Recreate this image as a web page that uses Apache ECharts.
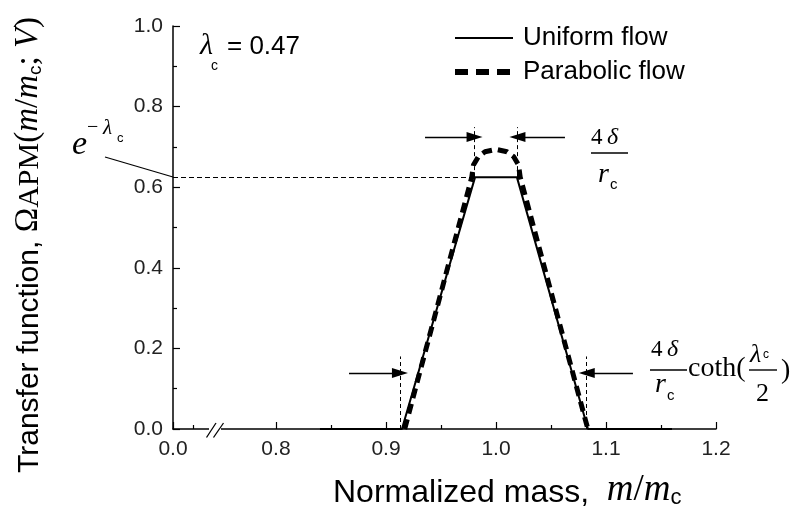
<!DOCTYPE html>
<html><head><meta charset="utf-8">
<script src="https://cdn.jsdelivr.net/npm/echarts@6/dist/echarts.min.js"></script>
<style>html,body{margin:0;padding:0;background:#fff}#c{width:799px;height:516px}</style>
</head><body><div id="c"></div>
<script>
// ---- data ----
const xAxisOrigin = 0.7064;            // broken-axis origin, labelled "0.0"
const xAxisMax = 1.2;
const xTickValues = [0.7064, 0.8, 0.9, 1.0, 1.1, 1.2];
const xTickLabels = ['0.0', '0.8', '0.9', '1.0', '1.1', '1.2'];
const xMinorTickValues = [0.7246, 0.85, 0.95, 1.05, 1.15];
const yMin = 0, yMax = 1, yInterval = 0.2;

const uniformX = [0.84, 0.9145, 0.981, 1.019, 1.0836, 1.16];
const uniformY = [0, 0, 0.625, 0.625, 0, 0];
const parabolicX = [0.917, 0.978, 0.9795, 0.984, 0.990, 1.000, 1.010, 1.016, 1.0205, 1.022, 1.0835];
const parabolicY = [0, 0.625, 0.655, 0.676, 0.688, 0.694, 0.688, 0.676, 0.655, 0.625, 0];

const expLevel = 0.625;                 // e^{-λc}
const peakGuideX = [0.9805, 1.0195];
const peakGuideY = [0.625, 0.749];
const baseGuideX = [0.9127, 1.0825];
const baseGuideY = [0, 0.18];
const peakArrowY = 0.7246;
const peakArrowFrom = [0.9355, 1.0627];
const baseArrowY = 0.139;
const baseArrowFrom = [0.8664, 1.1245];

// ---- helpers ----
const SANS = '"Liberation Sans", Arial, sans-serif';
const SERIF = '"Liberation Serif", "Times New Roman", serif';
function txt(str, x, baseline, size, family, italic, extra) {
  return Object.assign({
    type: 'text', x: x, y: baseline - 0.3 * size, z: 50,
    style: { text: str, font: (italic ? 'italic ' : '') + size + 'px ' + family,
             fill: '#000', align: 'left', verticalAlign: 'middle' }
  }, extra || {});
}
function hline(x1, x2, y, w) {
  return { type: 'line', z: 50, shape: { x1: x1, y1: y, x2: x2, y2: y }, style: { stroke: '#000', lineWidth: w || 1.4 } };
}
function pair(a, b, opts) {
  return [Object.assign({ coord: a }, opts && opts.s || {}), Object.assign({ coord: b }, opts && opts.e || {})];
}
const arrowEnd = { s: { symbol: 'none' }, e: { symbol: 'triangle', symbolSize: [10, 16] } };
const dashedGuide = { lineStyle: { type: [4, 3], width: 1, color: '#000' } };

const mlData = [
  pair([xAxisOrigin, expLevel], [peakGuideX[0], expLevel], { s: { symbol: 'none' }, e: { symbol: 'none' } }),
  pair([peakGuideX[0], peakGuideY[0]], [peakGuideX[0], peakGuideY[1]]),
  pair([peakGuideX[1], peakGuideY[0]], [peakGuideX[1], peakGuideY[1]]),
  pair([baseGuideX[0], baseGuideY[0]], [baseGuideX[0], baseGuideY[1]]),
  pair([baseGuideX[1], baseGuideY[0]], [baseGuideX[1], baseGuideY[1]]),
].map(d => { d[0].lineStyle = dashedGuide.lineStyle; return d; });
mlData[0][0].lineStyle = { type: [5, 3], width: 1, color: '#000' };

const arrowData = [
  pair([peakArrowFrom[0], peakArrowY], [peakGuideX[0], peakArrowY], arrowEnd),
  pair([peakArrowFrom[1], peakArrowY], [peakGuideX[1], peakArrowY], arrowEnd),
  pair([baseArrowFrom[0], baseArrowY], [baseGuideX[0], baseArrowY], arrowEnd),
  pair([baseArrowFrom[1], baseArrowY], [baseGuideX[1], baseArrowY], arrowEnd),
];

const chart = echarts.init(document.getElementById('c'));
const option = {
  animation: false,
  backgroundColor: '#fff',
  grid: { left: 173, right: 83, top: 26, bottom: 87, containLabel: false },
  legend: {
    orient: 'vertical', left: 447, top: 20, itemWidth: 58, itemHeight: 14, itemGap: 8,
    data: [
      { name: 'Uniform flow', lineStyle: { width: 2 } },
      { name: 'Parabolic flow', lineStyle: { width: 6, type: [13, 8] } }
    ],
    itemStyle: { opacity: 0 },
    textStyle: { fontFamily: SANS, fontSize: 26, color: '#000', padding: [0, 0, 0, 5] },
    selectedMode: false
  },
  xAxis: [{
    type: 'value', min: xAxisOrigin, max: xAxisMax,
    axisLine: { lineStyle: { color: '#000', width: 1.5 } },
    axisTick: { inside: true, length: 7, customValues: xTickValues, lineStyle: { color: '#000', width: 1.2 } },
    axisLabel: { customValues: xTickValues, margin: 10, fontFamily: SANS, fontSize: 21, color: '#222',
      formatter: v => { let bi = 0; xTickValues.forEach((t, i) => { if (Math.abs(t - v) < Math.abs(xTickValues[bi] - v)) bi = i; }); return xTickLabels[bi]; } },
    splitLine: { show: false }
  }, {
    type: 'value', min: xAxisOrigin, max: xAxisMax, position: 'bottom',
    axisLine: { show: false },
    axisTick: { inside: true, length: 4, customValues: xMinorTickValues, lineStyle: { color: '#000', width: 1.2 } },
    axisLabel: { show: false },
    splitLine: { show: false }
  }],
  yAxis: {
    type: 'value', min: yMin, max: yMax, interval: yInterval,
    axisLine: { show: true, lineStyle: { color: '#000', width: 1.5 } },
    axisTick: { show: true, inside: true, length: 7, lineStyle: { color: '#000', width: 1.2 } },
    minorTick: { show: true, splitNumber: 2, length: 4, lineStyle: { color: '#000', width: 1.2 } },
    axisLabel: { margin: 10, fontFamily: SANS, fontSize: 21, color: '#222', formatter: v => v.toFixed(1) },
    splitLine: { show: false }
  },
  series: [{
    name: 'Uniform flow', type: 'line', symbol: 'none', z: 5,
    data: uniformX.map((x, i) => [x, uniformY[i]]),
    lineStyle: { color: '#000', width: 2 }, itemStyle: { color: '#000' }
  }, {
    name: 'Parabolic flow', type: 'line', symbol: 'none', z: 6,
    data: parabolicX.map((x, i) => [x, parabolicY[i]]),
    lineStyle: { color: '#000', width: 5, type: [10, 6] }, itemStyle: { color: '#000' }
  }, {
    name: 'guides', type: 'line', data: [], symbol: 'none',
    markLine: { silent: true, symbol: 'none', label: { show: false }, animation: false, data: mlData }
  }, {
    name: 'arrows', type: 'line', data: [], symbol: 'none',
    markLine: { silent: true, label: { show: false }, animation: false,
      lineStyle: { type: 'solid', width: 1.3, color: '#000' }, itemStyle: { color: '#000' }, data: arrowData }
  }],
  graphic: { elements: [
    // axis break
    { type: 'rect', z: 60, shape: { x: 209, y: 426, width: 12, height: 6 }, style: { fill: '#fff' } },
    { type: 'line', z: 61, shape: { x1: 206.5, y1: 437.5, x2: 216, y2: 423 }, style: { stroke: '#000', lineWidth: 1.3 } },
    { type: 'line', z: 61, shape: { x1: 213.5, y1: 437.5, x2: 223.5, y2: 423 }, style: { stroke: '#000', lineWidth: 1.3 } },
    // axis titles
    { type: 'text', z: 50, x: 333, y: 469,
      style: { text: '{a|Normalized mass,  }{i|m}{p|/}{i|m}{sc|c}', align: 'left', verticalAlign: 'top', fill: '#000',
        rich: {
          a: { fontFamily: SANS, fontSize: 32, lineHeight: 38, verticalAlign: 'bottom' },
          i: { fontFamily: SERIF, fontStyle: 'italic', fontSize: 37, lineHeight: 40, verticalAlign: 'bottom' },
          p: { fontFamily: SERIF, fontSize: 37, lineHeight: 40, verticalAlign: 'bottom' },
          sc: { fontFamily: SANS, fontSize: 22, lineHeight: 20, verticalAlign: 'bottom' }
        } } },
    { type: 'text', z: 50, x: 9, y: 473, rotation: Math.PI / 2,
      style: { text: '{a|Transfer function, }{p|Ω}{s|APM}{p|(}{i|m}{p|/}{i|m}{sc|c}{p|; }{i|V}{p|)}', align: 'left', verticalAlign: 'top', fill: '#000',
        rich: {
          a: { fontFamily: SANS, fontSize: 30, lineHeight: 36, verticalAlign: 'bottom' },
          i: { fontFamily: SERIF, fontStyle: 'italic', fontSize: 33, lineHeight: 36, verticalAlign: 'bottom' },
          p: { fontFamily: SERIF, fontSize: 33, lineHeight: 36, verticalAlign: 'bottom' },
          s: { fontFamily: SERIF, fontSize: 30, lineHeight: 26, verticalAlign: 'bottom' },
          sc: { fontFamily: SANS, fontSize: 19, lineHeight: 18, verticalAlign: 'bottom' }
        } } },
    // λc = 0.47
    txt('λ', 200, 55, 30, SERIF, true),
    txt('c', 211, 70, 14, SANS, false),
    txt('= 0.47', 227, 55, 26, SANS, false),
    // e^{-λc}
    txt('e', 72, 155, 34, SERIF, true),
    txt('−', 87, 134, 20, SERIF, false),
    txt('λ', 103, 135, 21, SERIF, true),
    txt('c', 117, 142, 13, SANS, false),
    { type: 'line', z: 50, shape: { x1: 105, y1: 157, x2: 173, y2: 177 }, style: { stroke: '#000', lineWidth: 1.3 } },
    // 4δ / rc
    txt('4', 591, 144.5, 23, SERIF, false),
    txt('δ', 607, 145, 24, SERIF, true),
    hline(591, 628, 153),
    txt('r', 598, 183, 28, SERIF, true),
    txt('c', 610, 189, 15, SANS, false),
    // 4δ / rc coth(λc/2)
    txt('4', 651, 357, 23, SERIF, false),
    txt('δ', 667, 357, 24, SERIF, true),
    hline(650, 687, 370),
    txt('r', 655, 393, 28, SERIF, true),
    txt('c', 667, 400, 15, SANS, false),
    txt('coth(', 688, 377, 28, SERIF, false),
    txt('λ', 750, 363, 26, SERIF, true),
    txt('c', 763, 358, 12, SANS, false),
    hline(749, 777, 370),
    txt('2', 756, 402, 26, SERIF, false),
    txt(')', 781, 379, 28, SERIF, false)
  ] }
};
chart.setOption(option);
</script>
</body></html>
